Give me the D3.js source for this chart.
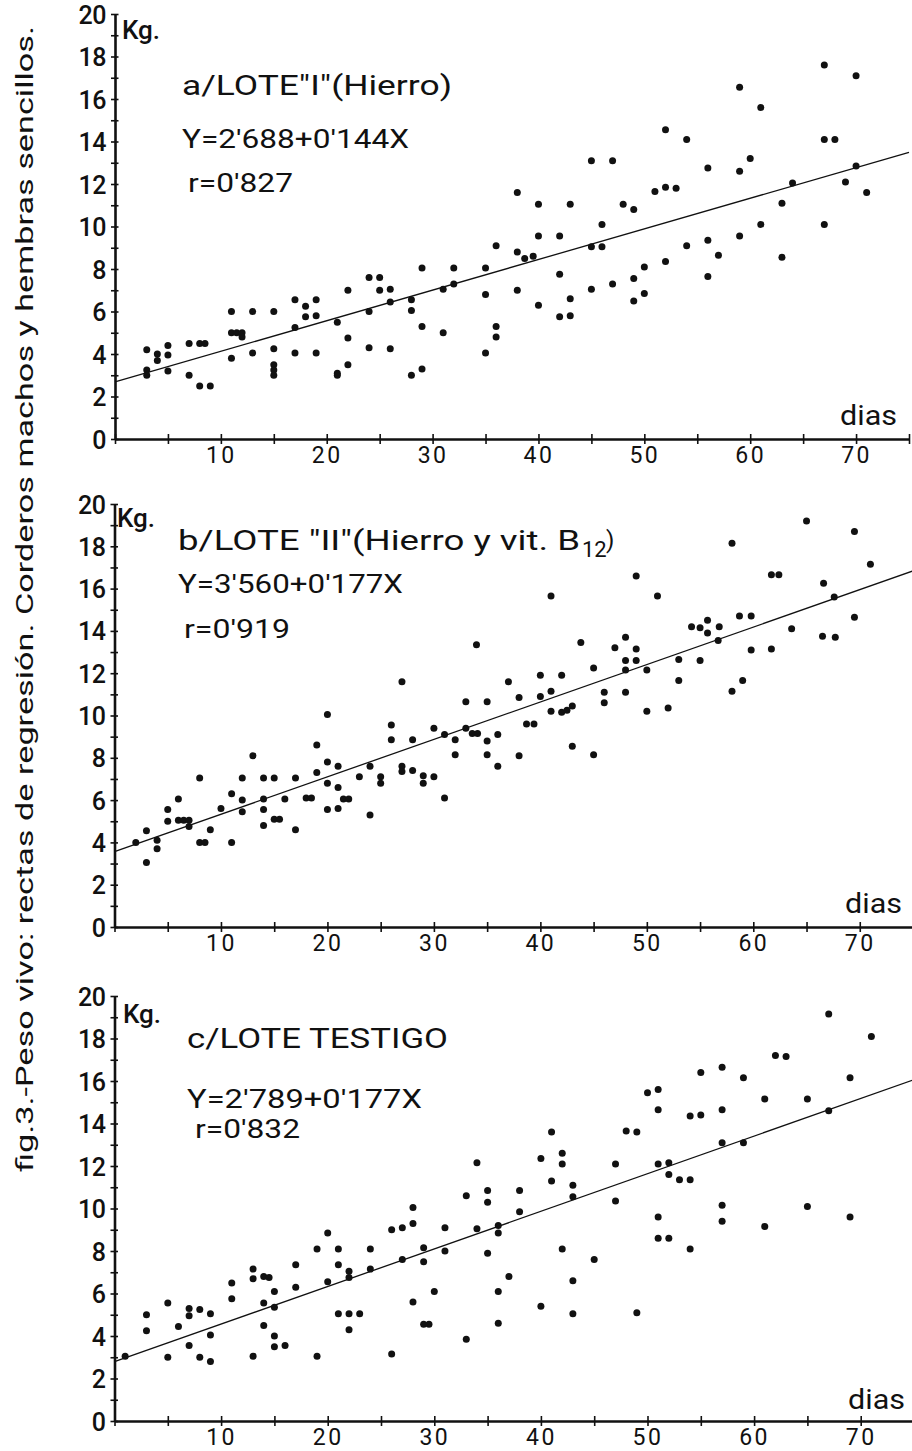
<!DOCTYPE html>
<html>
<head>
<meta charset="utf-8">
<script src="https://cdn.jsdelivr.net/npm/d3@7/dist/d3.min.js"></script>
<style>
  body { margin: 0; background: #fff; }
  svg { display: block; }
  text { font-family: Roboto, "DejaVu Sans", sans-serif; fill: #111; }
</style>
</head>
<body>
<svg id="chart" width="912" height="1451"></svg>
<script>
// --- datos: [dias, kg] ---
const puntosLoteI = [
  [3,4.2],[3,3.25],[3,3.0],[4,4.0],[4,3.7],[5,4.4],[5,3.95],[5,3.2],[7,4.5],[7,3.0],
  [8,4.5],[8.5,4.5],[8,2.5],[9,2.5],[11,6.0],[11,5.0],[11.5,5.0],[12,5.0],[12,4.8],[11,3.8],
  [13,6.0],[13,4.05],[15,6.0],[15,4.25],[15,3.5],[15,3.25],[15,3.0],[17,6.55],[17,5.25],[17,4.05],
  [18,6.25],[18,5.75],[19,6.55],[19,5.8],[19,4.05],[21,5.5],[21,3.1],[21,3.0],[22,7.0],[22,4.75],
  [22,3.5],[24,7.6],[24,6.0],[24,4.3],[25,7.6],[25,7.0],[26,7.05],[26,6.45],[26,4.25],[28,6.55],
  [28,6.05],[28,3.0],[29,8.05],[29,5.3],[29,3.3],[31,7.05],[31,5.0],[32,8.05],[32,7.3],[35,8.05],
  [35,6.8],[35,4.05],[36,9.1],[36,5.3],[36,4.8],[38,8.8],[38,7.0],[38.7,8.5],[39.5,8.6],[40,9.55],
  [40,6.3],[42,9.55],[42,7.75],[42,5.75],[43,6.6],[43,5.8],[45,9.05],[46,9.05],[45,7.05],[47,7.3],
  [49,7.55],[49,6.5],[50,8.1],[50,6.85],[52,8.35],[54,9.1],[56,9.35],[56,7.65],[57,8.65],[59,9.55],
  [63,8.55],[67,17.6],[70,17.1],[59,16.55],[61,15.6],[52,14.55],[54,14.1],[67,14.1],[68,14.1],[45,13.1],
  [47,13.1],[56,12.75],[59,12.6],[60,13.2],[64,12.05],[70,12.85],[69,12.1],[71,11.6],[63,11.1],[67,10.1],
  [61,10.1],[38,11.6],[40,11.05],[43,11.05],[48,11.05],[49,10.8],[51,11.65],[52,11.85],[53,11.8],[46,10.1]
];

const puntosLoteII = [
  [2,4.0],[3,4.55],[3,3.05],[4,4.1],[4,3.7],[5,5.55],[5,5.0],[6,6.05],[6,5.05],[6.5,5.05],
  [7,5.05],[7,4.75],[8,7.05],[8,4.0],[8.5,4.0],[9,4.6],[10,5.6],[11,6.3],[11,4.0],[12,7.05],
  [12,6.0],[12,5.45],[13,8.1],[14,7.05],[14,6.05],[14,5.55],[14,4.8],[15,7.05],[15,5.1],[15.5,5.1],
  [16,6.05],[17,7.05],[17,4.6],[18,6.1],[18.5,6.1],[19,8.6],[19,7.3],[20,7.8],[20,6.8],[20,5.55],
  [21,7.6],[21,6.6],[21,5.6],[21.5,6.05],[22,6.05],[23,7.1],[24,7.6],[24,5.3],[25,7.1],[25,6.8],
  [26,9.55],[26,8.85],[27,7.6],[27,7.35],[28,8.85],[28,7.4],[29,7.15],[29,6.8],[30,9.4],[30,7.1],
  [31,9.1],[31,6.1],[32,8.85],[32,8.15],[33,9.4],[33.6,9.15],[34.1,9.15],[35,8.8],[35,8.15],[36,9.1],
  [36,7.6],[38,8.1],[38.7,9.6],[39.4,9.6],[43,8.55],[45,8.15],[65,19.2],[69.5,18.7],[58,18.15],[71,17.15],
  [61.7,16.65],[62.4,16.65],[49,16.6],[66.6,16.25],[51,15.65],[41,15.65],[67.6,15.6],[69.5,14.65],[58.7,14.7],[59.8,14.7],
  [55.7,14.5],[54.2,14.2],[55,14.15],[56.8,14.2],[55.7,13.9],[56.7,13.55],[63.6,14.1],[66.5,13.75],[67.7,13.7],[59.8,13.1],
  [61.7,13.15],[34,13.35],[43.8,13.45],[47,13.2],[48,13.7],[49,13.15],[48,12.6],[49,12.6],[48,12.15],[50,12.15],
  [53,12.65],[55,12.6],[53,11.65],[58,11.15],[59,11.65],[37,11.6],[33,10.65],[35,10.65],[38,10.85],[40,11.9],
  [42,11.9],[40,10.9],[41,11.15],[41,10.2],[42,10.15],[42.5,10.25],[43,10.45],[45,12.25],[46,11.1],[46,10.6],
  [48,11.1],[50,10.2],[52,10.35],[27,11.6],[20,10.05]
];

const puntosTestigo = [
  [1,3.05],[3,5.0],[3,4.25],[5,5.55],[5,3.0],[6,4.45],[7,5.3],[7,4.95],[7,3.55],[8,5.25],
  [8,3.0],[9,5.05],[9,4.05],[9,2.8],[11,6.5],[11,5.75],[13,7.15],[13,6.7],[13,3.05],[14,6.8],
  [14.5,6.75],[14,5.55],[14,4.5],[15,6.1],[15,5.35],[15,4.0],[15,3.5],[16,3.55],[17,7.35],[17,6.3],
  [19,8.1],[19,3.05],[20,8.85],[20,6.55],[21,8.1],[21,7.35],[21,5.05],[22,7.05],[22,6.75],[22,5.05],
  [22,4.3],[23,5.05],[24,8.1],[24,7.15],[26,3.15],[26,9.0],[27,9.1],[27,7.6],[28,10.05],[28,9.3],
  [28,5.6],[29,8.15],[29,7.5],[29,4.55],[29.5,4.55],[30,6.1],[31,9.1],[31,8.0],[33,3.85],[34,9.05],
  [35,10.3],[35,7.9],[36,9.2],[36,8.85],[36,6.1],[36,4.6],[37,6.8],[38,9.85],[40,5.4],[42,8.1],
  [43,6.6],[43,5.05],[45,7.6],[47,10.35],[49,5.1],[51,9.6],[51,8.6],[52,8.6],[54,8.1],[57,10.15],
  [57,9.4],[61,9.15],[65,10.1],[69,9.6],[67,19.15],[71,18.1],[62,17.2],[63,17.15],[55,16.4],[57,16.65],
  [59,16.15],[69,16.15],[50,15.45],[51,15.6],[51,14.65],[54,14.35],[55,14.4],[57,14.65],[61,15.15],[65,15.15],
  [67,14.6],[48,13.65],[49,13.6],[41,13.6],[34,12.15],[40,12.35],[42,12.6],[42,12.1],[41,11.3],[43,11.1],
  [43,10.55],[47,12.1],[51,12.1],[52,12.15],[52,11.6],[53,11.35],[54,11.35],[57,13.1],[59,13.1],[33,10.6],
  [35,10.85],[38,10.85]
];

// rectas de regresion: [ordenada, pendiente]
const rectaLoteI = [2.688, 0.144];
const rectaLoteII = [3.560, 0.177];
const rectaTestigo = [2.789, 0.177];

const ticksDias = d3.range(0, 76, 5);
const etiquetasDias = [10, 20, 30, 40, 50, 60, 70];
const ticksKg = d3.range(0, 21, 1);
const etiquetasKg = [0, 2, 4, 6, 8, 10, 12, 14, 16, 18, 20];

const titulos = ["a/LOTE\"I\"(Hierro)", "b/LOTE \"II\"(Hierro  y vit. B", "c/LOTE  TESTIGO"];
const ecuaciones = ["Y=2'688+0'144X", "Y=3'560+0'177X", "Y=2'789+0'177X"];
const correlaciones = ["r=0'827", "r=0'919", "r=0'832"];
const pie = "fig.3.-Peso vivo: rectas de regresión. Corderos machos y hembras sencillos.";

// --- layout ---
const svg = d3.select("#chart");

const paneles = [
  { puntos: puntosLoteI, recta: rectaLoteI, titulo: 0, y0: 439, y20: 14, x0: 115, x75: 909,
    kg: [122, 39], tit: [182, 95, 270], ec: [182, 148, 227], r: [188, 192, 105], dias: [840, 425] },
  { puntos: puntosLoteII, recta: rectaLoteII, titulo: 1, y0: 927, y20: 504, x0: 114.5, x75: 913,
    kg: [117, 527], tit: [178, 550, 402], ec: [178, 593, 225], r: [184, 638, 106], dias: [845, 913] },
  { puntos: puntosTestigo, recta: rectaTestigo, titulo: 2, y0: 1421, y20: 996, x0: 114.5, x75: 914,
    kg: [123, 1023], tit: [187, 1048, 261], ec: [187, 1108, 235], r: [195, 1138, 105], dias: [848, 1409] }
];

paneles.forEach(p => {
  const x = d3.scaleLinear().domain([0, 75]).range([p.x0, p.x75]);
  const y = d3.scaleLinear().domain([0, 20]).range([p.y0, p.y20]);
  const g = svg.append("g");

  // eje Y
  const ejeY = g.append("g").attr("transform", `translate(${p.x0},0)`)
    .call(d3.axisLeft(y).tickValues(ticksKg).tickSize(4).tickSizeOuter(0)
      .tickFormat(d => etiquetasKg.includes(d) ? d : ""));
  ejeY.select(".domain").attr("stroke", "#111").attr("stroke-width", 2.6);
  ejeY.selectAll(".tick line").attr("x1", 3.5).attr("stroke", "#111").attr("stroke-width", 1.6);
  ejeY.selectAll(".tick text").attr("x", -9).attr("dy", "0.36em")
    .style("font-size", "25px").style("font-weight", 500).style("letter-spacing", "-0.5px");

  // eje X
  const ejeX = g.append("g").attr("transform", `translate(0,${p.y0})`)
    .call(d3.axisBottom(x).tickValues(ticksDias).tickSize(5).tickSizeOuter(0)
      .tickFormat(d => etiquetasDias.includes(d) ? d : ""));
  ejeX.select(".domain").attr("stroke", "#111").attr("stroke-width", 2.6);
  ejeX.selectAll(".tick line").attr("y1", -5).attr("stroke", "#111").attr("stroke-width", 1.6);
  ejeX.selectAll(".tick text").attr("y", 8).attr("dy", "0.71em")
    .style("font-size", "23px").style("letter-spacing", "2.5px");

  // recta de regresion
  const linea = d3.line().x(d => x(d)).y(d => y(p.recta[0] + p.recta[1] * d));
  g.append("path").datum([0, 75]).attr("d", linea)
    .attr("fill", "none").attr("stroke", "#111").attr("stroke-width", 1.3);

  // puntos
  g.selectAll("circle").data(p.puntos).join("circle")
    .attr("cx", d => x(d[0])).attr("cy", d => y(d[1])).attr("r", 3.5)
    .attr("fill", "#111");

  // textos
  g.append("text").attr("x", p.kg[0]).attr("y", p.kg[1]).text("Kg.")
    .style("font-size", "26px").style("font-weight", 500);
  g.append("text").attr("x", p.tit[0]).attr("y", p.tit[1]).text(titulos[p.titulo])
    .attr("textLength", p.tit[2]).attr("lengthAdjust", "spacingAndGlyphs")
    .style("font-size", "27px");
  if (p.titulo === 1) {
    const fin = p.tit[0] + p.tit[2];
    g.append("text").attr("x", fin + 2).attr("y", p.tit[1] + 7).text("12").style("font-size", "22px");
    g.append("text").attr("x", fin + 26).attr("y", p.tit[1] - 2).text(")").style("font-size", "24px");
  }
  g.append("text").attr("x", p.ec[0]).attr("y", p.ec[1]).text(ecuaciones[p.titulo])
    .attr("textLength", p.ec[2]).attr("lengthAdjust", "spacingAndGlyphs")
    .style("font-size", "26px");
  g.append("text").attr("x", p.r[0]).attr("y", p.r[1]).text(correlaciones[p.titulo])
    .attr("textLength", p.r[2]).attr("lengthAdjust", "spacingAndGlyphs")
    .style("font-size", "26px");
  g.append("text").attr("x", p.dias[0]).attr("y", p.dias[1]).text("dias")
    .attr("textLength", 57).attr("lengthAdjust", "spacingAndGlyphs")
    .style("font-size", "28px");
});

// pie de figura vertical
svg.append("text")
  .attr("transform", "translate(33,1172) rotate(-90)")
  .attr("textLength", 1146).attr("lengthAdjust", "spacingAndGlyphs")
  .style("font-size", "23px")
  .text(pie);
</script>
</body>
</html>
